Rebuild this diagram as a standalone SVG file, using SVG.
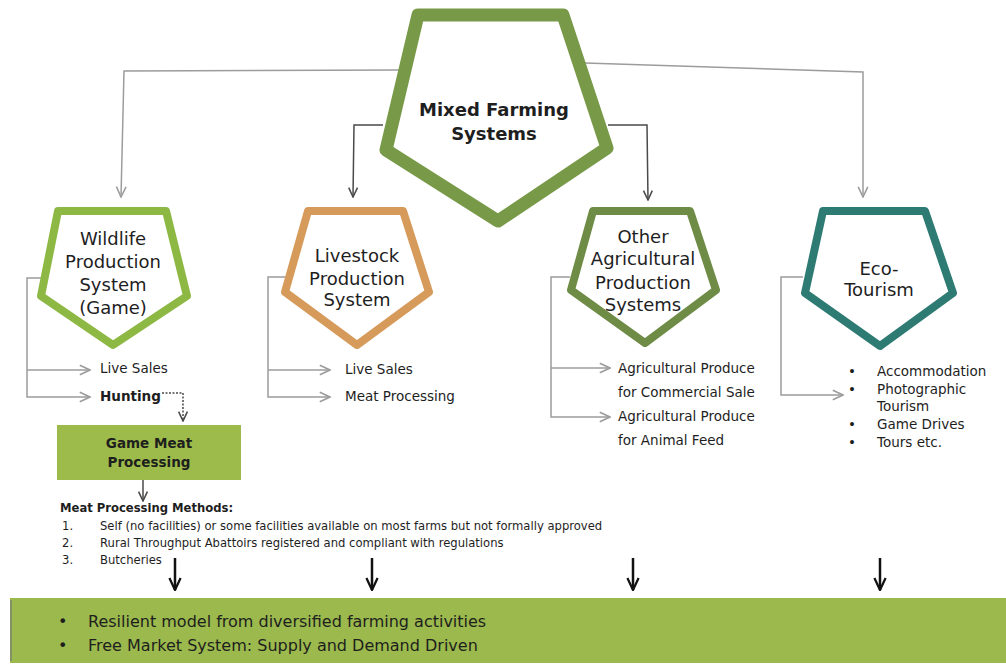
<svg xmlns="http://www.w3.org/2000/svg" width="1006" height="668" viewBox="0 0 1006 668">
<defs>
<style>
.t{font-family:"DejaVu Sans","Liberation Sans",sans-serif;fill:#1e1e1e}
.node{font-size:18px;text-anchor:middle}
.lbl{font-size:13.5px}
.sm{font-size:11.6px}
.pent{fill:#fff;stroke-linejoin:round}
.cg{fill:none;stroke:#9c9c9c;stroke-width:1.5}
.cd{fill:none;stroke:#4a4a4a;stroke-width:1.5}
.cb{fill:none;stroke:#111;stroke-width:2.5}
</style>
<marker id="mg" viewBox="0 0 10 10" refX="9.5" refY="5" markerWidth="12" markerHeight="12" markerUnits="userSpaceOnUse" orient="auto"><path d="M1,1 L9.5,5 L1,9" fill="none" stroke="#9c9c9c" stroke-width="1.3"/></marker>
<marker id="md" viewBox="0 0 10 10" refX="9.5" refY="5" markerWidth="11" markerHeight="11" markerUnits="userSpaceOnUse" orient="auto"><path d="M1,1 L9.5,5 L1,9" fill="none" stroke="#4a4a4a" stroke-width="1.4"/></marker>
<marker id="mb" viewBox="0 0 10 10" refX="9.5" refY="5" markerWidth="14" markerHeight="14" markerUnits="userSpaceOnUse" orient="auto"><path d="M1,1 L9.5,5 L1,9" fill="none" stroke="#111" stroke-width="1.6"/></marker>
</defs>
<rect width="1006" height="668" fill="#fff"/>

<g id="connectors">
<polyline class="cg" points="401,70 124,71 121,197" marker-end="url(#mg)"/>
<polyline class="cd" points="383,125 354,125 353,197" marker-end="url(#md)"/>
<polyline class="cg" points="585,63 863,72 863,197" marker-end="url(#mg)"/>
<polyline class="cd" points="608,125 647,125 648,200" marker-end="url(#md)"/>
<path class="cg" d="M42,278 H27 V397 H90" marker-end="url(#mg)"/>
<path class="cg" d="M27,370 H90" marker-end="url(#mg)"/>
<path class="cd" d="M162,393 H183 V421" stroke-dasharray="2,1.5" marker-end="url(#md)"/>
<path class="cd" d="M143,480 V501" stroke="#111" stroke-width="2" marker-end="url(#md)"/>
<path class="cg" d="M286,277 H268 V397 H330" marker-end="url(#mg)"/>
<path class="cg" d="M268,370 H330" marker-end="url(#mg)"/>
<path class="cg" d="M570,277 H551 V417 H610" marker-end="url(#mg)"/>
<path class="cg" d="M551,368 H610" marker-end="url(#mg)"/>
<path class="cg" d="M803,277 H781 V395 H843" marker-end="url(#mg)"/>
<path class="cb" d="M175,558 V590" marker-end="url(#mb)"/>
<path class="cb" d="M372,558 V590" marker-end="url(#mb)"/>
<path class="cb" d="M633,558 V590" marker-end="url(#mb)"/>
<path class="cb" d="M880,558 V590" marker-end="url(#mb)"/>
</g>

<g id="mixed-farming">
<polygon class="pent" points="418,15 563,15 607,148 498,221 386,150" stroke="#789a48" stroke-width="13"/>
<text class="t" x="494" y="116" font-size="18" font-weight="bold" text-anchor="middle">Mixed Farming</text>
<text class="t" x="494" y="140" font-size="18" font-weight="bold" text-anchor="middle">Systems</text>
</g>

<g id="wildlife">
<polygon class="pent" points="58,211 166,211 187,296 113,345 41,296" stroke="#8db843" stroke-width="8"/>
<text class="t node" x="113" y="245">Wildlife</text>
<text class="t node" x="113" y="268">Production</text>
<text class="t node" x="113" y="291">System</text>
<text class="t node" x="113" y="314">(Game)</text>
</g>

<g id="livestock">
<polygon class="pent" points="308,211 403,211 429,292 357,345 285,292" stroke="#d69a5a" stroke-width="8"/>
<text class="t node" x="357" y="262">Livestock</text>
<text class="t node" x="357" y="285">Production</text>
<text class="t node" x="357" y="306">System</text>
</g>

<g id="other-agri">
<polygon class="pent" points="593,211 690,211 716,290 645,343 571,290" stroke="#6e8c46" stroke-width="8"/>
<text class="t node" x="643" y="243">Other</text>
<text class="t node" x="643" y="265">Agricultural</text>
<text class="t node" x="643" y="289">Production</text>
<text class="t node" x="643" y="311">Systems</text>
</g>

<g id="eco-tourism">
<polygon class="pent" points="823,211 925,211 953,293 880,346 805,293" stroke="#2e7b74" stroke-width="8"/>
<text class="t node" x="879" y="275">Eco-</text>
<text class="t node" x="879" y="296">Tourism</text>
</g>

<g id="wildlife-outputs">
<text class="t lbl" x="100" y="373">Live Sales</text>
<text class="t lbl" x="100" y="401" font-weight="bold">Hunting</text>
</g>

<g id="game-meat">
<rect x="57" y="425" width="184" height="55" fill="#9dbb4a"/>
<text class="t" x="149" y="448" font-size="13.5" font-weight="bold" text-anchor="middle">Game Meat</text>
<text class="t" x="149" y="467" font-size="13.5" font-weight="bold" text-anchor="middle">Processing</text>
</g>

<g id="meat-methods">
<text class="t sm" x="60" y="512" font-weight="bold">Meat Processing Methods:</text>
<text class="t sm" x="62" y="530">1.</text>
<text class="t sm" x="100" y="530">Self (no facilities) or some facilities available on most farms but not formally approved</text>
<text class="t sm" x="62" y="547">2.</text>
<text class="t sm" x="100" y="547">Rural Throughput Abattoirs registered and compliant with regulations</text>
<text class="t sm" x="62" y="564">3.</text>
<text class="t sm" x="100" y="564">Butcheries</text>
</g>

<g id="livestock-outputs">
<text class="t lbl" x="345" y="374">Live Sales</text>
<text class="t lbl" x="345" y="401">Meat Processing</text>
</g>

<g id="other-outputs">
<text class="t lbl" x="618" y="373">Agricultural Produce</text>
<text class="t lbl" x="618" y="397">for Commercial Sale</text>
<text class="t lbl" x="618" y="421">Agricultural Produce</text>
<text class="t lbl" x="618" y="445">for Animal Feed</text>
</g>

<g id="eco-outputs">
<text class="t lbl" x="848" y="376">•</text>
<text class="t lbl" x="877" y="376">Accommodation</text>
<text class="t lbl" x="848" y="394">•</text>
<text class="t lbl" x="877" y="394">Photographic</text>
<text class="t lbl" x="877" y="411">Tourism</text>
<text class="t lbl" x="848" y="429">•</text>
<text class="t lbl" x="877" y="429">Game Drives</text>
<text class="t lbl" x="848" y="447">•</text>
<text class="t lbl" x="877" y="447">Tours etc.</text>
</g>

<g id="summary">
<rect x="10" y="598" width="996" height="65" fill="#9bb94c"/>
<path d="M11,600 V661" stroke="#777" stroke-width="1.2" fill="none"/>
<text class="t" x="58" y="627" font-size="16" fill="#3a3a3a">•</text>
<text class="t" x="88" y="627" font-size="16" fill="#3a3a3a">Resilient model from diversified farming activities</text>
<text class="t" x="58" y="651" font-size="16" fill="#3a3a3a">•</text>
<text class="t" x="88" y="651" font-size="16" fill="#3a3a3a">Free Market System: Supply and Demand Driven</text>
</g>
</svg>
